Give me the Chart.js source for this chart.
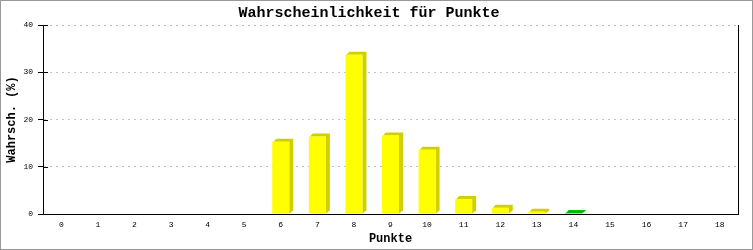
<!DOCTYPE html>
<html lang="de">
<head>
<meta charset="UTF-8">
<title>Wahrscheinlichkeit für Punkte</title>
<script src="https://cdn.jsdelivr.net/npm/chart.js"></script>
<style>
  body { margin: 0; background: #fff; }
</style>
</head>
<body>
<canvas id="chart" width="753" height="250"></canvas>
<script>
// Werte
const punkte = ['0', '1', '2', '3', '4', '5', '6', '7', '8', '9', '10', '11', '12', '13', '14', '15', '16', '17', '18'];
const wahrscheinlichkeit = [0, 0, 0, 0, 0, 0, 15.3, 16.4, 33.7, 16.6, 13.6, 3.2, 1.3, 0.5, 0.2, 0, 0, 0, 0];
const yTicks = [0, 10, 20, 30, 40];
const markiert = 14;

const mono = 'Liberation Mono, DejaVu Sans Mono, monospace';

// 3D-Schatten rechts oben an jedem Balken
const shadowPlugin = {
    id: 'shadow3d',
    beforeDatasetsDraw(chart) {
        const ctx = chart.ctx;
        const meta = chart.getDatasetMeta(0);
        meta.data.forEach((bar, i) => {
            if (!wahrscheinlichkeit[i]) return;
            const p = bar.getProps(['x', 'y', 'base', 'width'], true);
            const l = p.x - p.width / 2, r = p.x + p.width / 2;
            ctx.save();
            ctx.fillStyle = i === markiert ? '#00b800' : '#d0d000';
            ctx.beginPath();
            ctx.moveTo(l + 1, p.y);
            ctx.lineTo(l + 4, p.y - 3);
            ctx.lineTo(r + 4, p.y - 3);
            ctx.lineTo(r + 4, p.base - 3);
            ctx.lineTo(r, p.base);
            ctx.lineTo(r, p.y);
            ctx.closePath();
            ctx.fill();
            ctx.restore();
        });
    }
};

const framePlugin = {
    id: 'frame',
    beforeDraw(chart) {
        const ctx = chart.ctx;
        ctx.save();
        ctx.fillStyle = '#fff';
        ctx.fillRect(0, 0, chart.width, chart.height);
        ctx.restore();
    },
    afterDraw(chart) {
        const ctx = chart.ctx;
        const a = chart.chartArea;
        const y = chart.scales.y;
        ctx.save();
        ctx.strokeStyle = '#000';
        ctx.lineWidth = 1;
        ctx.beginPath();
        ctx.moveTo(Math.round(a.right) + 0.5, a.top);
        ctx.lineTo(Math.round(a.right) + 0.5, a.bottom + 0.5);
        // kurze Striche innen an der y-Achse
        yTicks.forEach(v => {
            if (v === 0) return;
            const py = Math.round(y.getPixelForValue(v)) + 0.5;
            ctx.moveTo(a.left, py);
            ctx.lineTo(a.left + 5, py);
        });
        ctx.stroke();
        ctx.strokeStyle = '#999';
        ctx.strokeRect(0.5, 0.5, chart.width - 1, chart.height - 1);
        ctx.restore();
    }
};

new Chart(document.getElementById('chart'), {
    type: 'bar',
    data: {
        labels: punkte,
        datasets: [{
            label: 'Wahrsch. (%)',
            data: wahrscheinlichkeit,
            backgroundColor: c => c.dataIndex === markiert ? '#00cc00' : '#ffff00',
            borderWidth: 0,
            barPercentage: 0.465,
            categoryPercentage: 1
        }]
    },
    plugins: [framePlugin, shadowPlugin],
    options: {
        responsive: false,
        animation: false,
        devicePixelRatio: 1,
        layout: { padding: { left: 0, right: 15, top: 0, bottom: 4 } },
        plugins: {
            legend: { display: false },
            tooltip: { enabled: false },
            title: {
                display: true,
                text: 'Wahrscheinlichkeit für Punkte',
                color: '#000',
                font: { family: mono, size: 15, weight: 'bold' },
                padding: { top: 4, bottom: 3 }
            }
        },
        scales: {
            x: {
                offset: true,
                grid: { drawOnChartArea: false, drawTicks: false },
                border: { color: '#000', width: 1 },
                ticks: {
                    color: '#000',
                    padding: 6,
                    maxRotation: 0,
                    autoSkip: false,
                    font: { family: mono, size: 8 }
                },
                title: {
                    display: true,
                    text: 'Punkte',
                    color: '#000',
                    font: { family: mono, size: 12, weight: 'bold' },
                    padding: 0
                },
                afterFit(scale) { scale.height = 32; }
            },
            y: {
                min: yTicks[0],
                max: yTicks[yTicks.length - 1],
                afterBuildTicks(scale) { scale.ticks = yTicks.map(v => ({ value: v })); },
                grid: {
                    color: c => c.tick && c.tick.value === 0 ? 'rgba(0,0,0,0)' : '#c0c0c0',
                    tickColor: '#000',
                    tickLength: 5,
                    tickBorderDash: []
                },
                border: { color: '#000', width: 1, dash: [2, 4] },
                ticks: {
                    color: '#000',
                    padding: 5,
                    font: { family: mono, size: 8 }
                },
                title: {
                    display: true,
                    text: 'Wahrsch. (%)',
                    color: '#000',
                    font: { family: mono, size: 12, weight: 'bold' },
                    padding: { top: 5, bottom: 0 }
                },
                afterFit(scale) { scale.width = 43; }
            }
        }
    }
});
</script>
</body>
</html>
